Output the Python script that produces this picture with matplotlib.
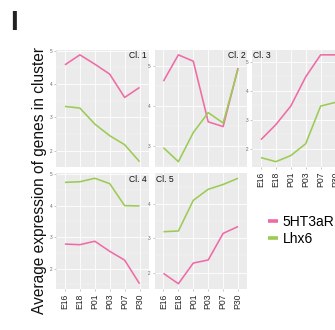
import matplotlib
matplotlib.use("Agg")
import matplotlib.pyplot as plt
import numpy as np

plt.rcParams['font.family'] = ['Liberation Sans', 'DejaVu Sans']

stages = ["E16", "E18", "P01", "P03", "P07", "P30"]
cluster_names = ["Cl. 1", "Cl. 2", "Cl. 3", "Cl. 4", "Cl. 5"]

ht3ar = [
    [4.58, 4.88, 4.60, 4.30, 3.60, 3.90],
    [4.62, 5.28, 5.12, 3.60, 3.48, 4.95],
    [2.31, 2.83, 3.47, 4.48, 5.24, 5.24],
    [2.78, 2.76, 2.87, 2.55, 2.27, 1.52],
    [1.98, 1.68, 2.28, 2.37, 3.14, 3.34],
]
lhx6 = [
    [3.33, 3.28, 2.80, 2.45, 2.18, 1.67],
    [2.95, 2.60, 3.33, 3.83, 3.57, 4.92],
    [1.69, 1.55, 1.76, 2.17, 3.47, 3.60],
    [4.74, 4.76, 4.87, 4.70, 4.00, 3.99],
    [3.19, 3.21, 4.10, 4.42, 4.56, 4.74],
]
series_labels = ["5HT3aR", "Lhx6"]
pink = "#EF6BA6"
green = "#9CCB55"

W, H = 335, 330
fig = plt.figure(figsize=(W / 100, H / 100), dpi=100)

# panel boxes in pixels: left, top, width, height
pw = 92.5
boxes = [
    (56, 49.5, pw, 117.5),
    (154.5, 49.5, pw, 117.5),
    (252, 49.5, pw, 117.5),
    (56, 173, pw, 116),
    (154.5, 173, pw, 116),
]
label_right = [True, True, False, True, False]
has_xlabels = [False, False, True, True, True]

handles = None
for i, (l, t, w, h) in enumerate(boxes):
    ax = fig.add_axes([l / W, 1 - (t + h) / H, w / W, h / H])
    ax.set_facecolor("#EBEBEB")
    x = np.arange(len(stages))
    lp, = ax.plot(x, ht3ar[i], color=pink, lw=1.15, solid_capstyle='butt', zorder=3)
    lg, = ax.plot(x, lhx6[i], color=green, lw=1.15, solid_capstyle='butt', zorder=3)
    if handles is None:
        handles = [lp, lg]
    allv = np.array(ht3ar[i] + lhx6[i])
    lo, hi = allv.min(), allv.max()
    r = hi - lo
    ax.set_ylim(lo - 0.05 * r, hi + 0.05 * r)
    ax.set_xlim(-0.6, len(stages) - 1 + 0.6)
    yt = [v for v in range(1, 7) if lo - 0.05 * r <= v <= hi + 0.05 * r]
    ax.set_yticks(yt)
    ax.set_yticks([v + 0.5 for v in range(0, 7) if lo - 0.05 * r <= v + 0.5 <= hi + 0.05 * r], minor=True)
    ax.set_xticks(x)
    ax.grid(True, which='major', color='white', lw=0.6, zorder=0)
    ax.grid(True, which='minor', axis='y', color='#F5F5F5', lw=0.3, zorder=0)
    ax.set_axisbelow(True)
    for s in ax.spines.values():
        s.set_visible(False)
    ax.tick_params(axis='y', which='major', labelsize=3.3, labelcolor='#666666',
                   length=1.5, width=0.4, color='#999999', pad=1.2)
    ax.tick_params(axis='y', which='minor', length=0)
    if has_xlabels[i]:
        ax.set_xticklabels(stages, rotation=90, fontsize=6.2, color='#222222')
        ax.tick_params(axis='x', length=1.5, width=0.4, color='#999999', pad=2)
    else:
        ax.set_xticklabels([])
        ax.tick_params(axis='x', length=0)
    if label_right[i]:
        ax.text(0.985, 0.985, cluster_names[i], transform=ax.transAxes, ha='right', va='top',
                fontsize=6.2, color='#111111')
    else:
        ax.text(0.012, 0.985, cluster_names[i], transform=ax.transAxes, ha='left', va='top',
                fontsize=6.2, color='#111111')

fig.text(40 / W, 1 - 180 / H, "Average expression of genes in cluster", rotation=90,
         ha='center', va='center', fontsize=11.2, color='#111111')
fig.text(14 / W, 1 - 23 / H, "I", ha='center', va='center', fontsize=20, fontweight='bold',
         color='#222222')

leg = fig.legend(handles, series_labels, loc='center left',
                 bbox_to_anchor=(268 / W, 1 - 230.5 / H), frameon=False,
                 fontsize=10, handlelength=0.75, handletextpad=0.3, labelspacing=0.25,
                 borderpad=0, borderaxespad=0)
for ln in leg.get_lines():
    ln.set_linewidth(2.6)

fig.savefig("out.png", dpi=100)
